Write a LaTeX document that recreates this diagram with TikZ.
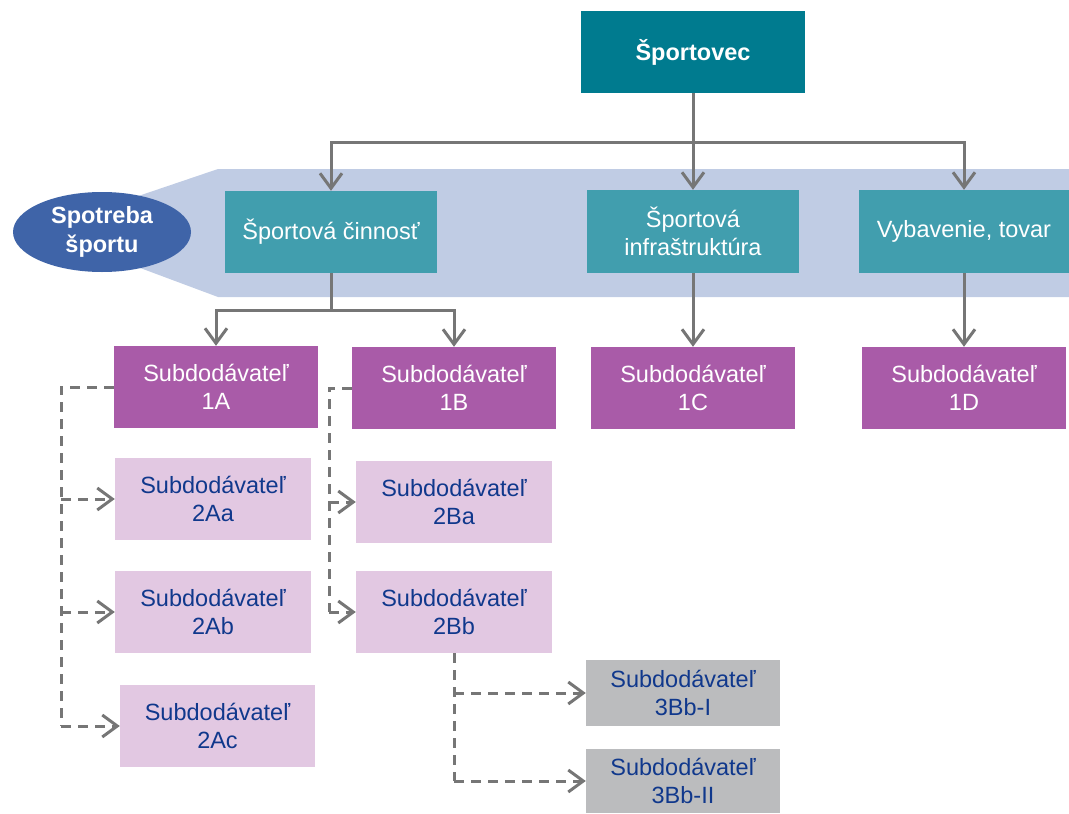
\documentclass[tikz,border=0pt]{standalone}
\usepackage{fontspec}
\setmainfont{Liberation Sans}
\usetikzlibrary{arrows.meta,shapes.geometric}
\definecolor{topteal}{RGB}{0,123,143}
\definecolor{midteal}{RGB}{65,158,174}
\definecolor{band}{RGB}{192,204,228}
\definecolor{ellblue}{RGB}{63,100,168}
\definecolor{purp}{RGB}{169,91,168}
\definecolor{lpurp}{RGB}{226,200,226}
\definecolor{gbox}{RGB}{187,188,190}
\definecolor{lgrey}{RGB}{118,118,118}
\definecolor{tblue}{RGB}{16,56,140}
\tikzset{
  base/.style={rectangle, inner sep=0pt, align=center, font=\fontsize{23.5}{28.5}\selectfont},
  topbox/.style={base, fill=topteal, text=white, font=\fontsize{23.5}{28.5}\selectfont\bfseries},
  midbox/.style={base, fill=midteal, text=white},
  pbox/.style={base, fill=purp, text=white, minimum width=204, minimum height=82},
  lpbox/.style={base, fill=lpurp, text=tblue, minimum width=196, minimum height=82},
  gybox/.style={base, fill=gbox, text=tblue, minimum width=194},
  conn/.style={draw=lgrey, line width=3pt},
  arr/.style={conn, -{Straight Barb[length=15pt,width=22pt,line width=3pt]}},
  dconn/.style={conn, dash pattern=on 10pt off 7pt},
  darr/.style={dconn, -{Straight Barb[length=15pt,width=22pt,line width=3pt]}},
}
\begin{document}
\begin{tikzpicture}[x=1pt,y=-1pt]
\useasboundingbox (0,0) rectangle (1069,814);
% band
\fill[band] (100,209) -- (218,169) -- (1069,169) -- (1069,297) -- (218,297) -- (100,253) -- cycle;
% nodes
\node[topbox, minimum width=224, minimum height=82] (top) at (693,52) {Športovec};
\node[midbox, minimum width=212, minimum height=82] (cin) at (331,232) {Športová činnosť};
\node[midbox, minimum width=212, minimum height=83] (inf) at (693,231.5) {Športová\\infraštruktúra};
\node[midbox, minimum width=210, minimum height=83] (vyb) at (964,231.5) {Vybavenie, tovar};
\node[ellipse, inner sep=0pt, fill=ellblue, text=white, align=center, minimum width=178, minimum height=80, font=\fontsize{23.5}{28.5}\selectfont\bfseries] (ell) at (102,232) {Spotreba\\športu};
\node[pbox] (A1) at (216,387) {Subdodávateľ\\1A};
\node[pbox] (B1) at (454,388) {Subdodávateľ\\1B};
\node[pbox] (C1) at (693,388) {Subdodávateľ\\1C};
\node[pbox] (D1) at (964,388) {Subdodávateľ\\1D};
\node[lpbox] (Aa) at (213,499) {Subdodávateľ\\2Aa};
\node[lpbox] (Ab) at (213,612) {Subdodávateľ\\2Ab};
\node[lpbox, minimum width=195] (Ac) at (217.5,726) {Subdodávateľ\\2Ac};
\node[lpbox] (Ba) at (454,502) {Subdodávateľ\\2Ba};
\node[lpbox] (Bb) at (454,612) {Subdodávateľ\\2Bb};
\node[gybox, minimum height=66] (BbI) at (683,693) {Subdodávateľ\\3Bb-I};
\node[gybox, minimum height=64] (BbII) at (683,781) {Subdodávateľ\\3Bb-II};
% solid connectors
\coordinate (h1) at (693,142);
\draw[conn] (top.south) -- (h1);
\draw[arr] (h1) -| (cin.north);
\draw[arr] (h1) -| (vyb.north);
\draw[arr] (h1) -- (inf.north);
\coordinate (h2) at (331,310);
\draw[conn] (cin.south) -- (h2);
\draw[arr] (h2) -| (A1.north);
\draw[arr] (h2) -| (B1.north);
\draw[arr] (inf.south) -- (C1.north);
\draw[arr] (vyb.south) -- (D1.north);
% dashed connectors A
\coordinate (ka) at (61,387);
\draw[dconn] (A1.west) -- (ka) -- (ka |- Ac.west);
\draw[darr] (ka |- Aa.west) -- (Aa.west);
\draw[darr] (ka |- Ab.west) -- (Ab.west);
\draw[darr] (ka |- Ac.west) -- (Ac.west);
% dashed connectors B
\coordinate (kb) at (329,388);
\draw[dconn] (B1.west) -- (kb) -- (kb |- Bb.west);
\draw[darr] (kb |- Ba.west) -- (Ba.west);
\draw[darr] (kb |- Bb.west) -- (Bb.west);
% dashed connectors Bb
\draw[dconn] (Bb.south) -- (Bb.south |- BbII.west);
\draw[darr] (Bb.south |- BbI.west) -- (BbI.west);
\draw[darr] (Bb.south |- BbII.west) -- (BbII.west);
\end{tikzpicture}
\end{document}
